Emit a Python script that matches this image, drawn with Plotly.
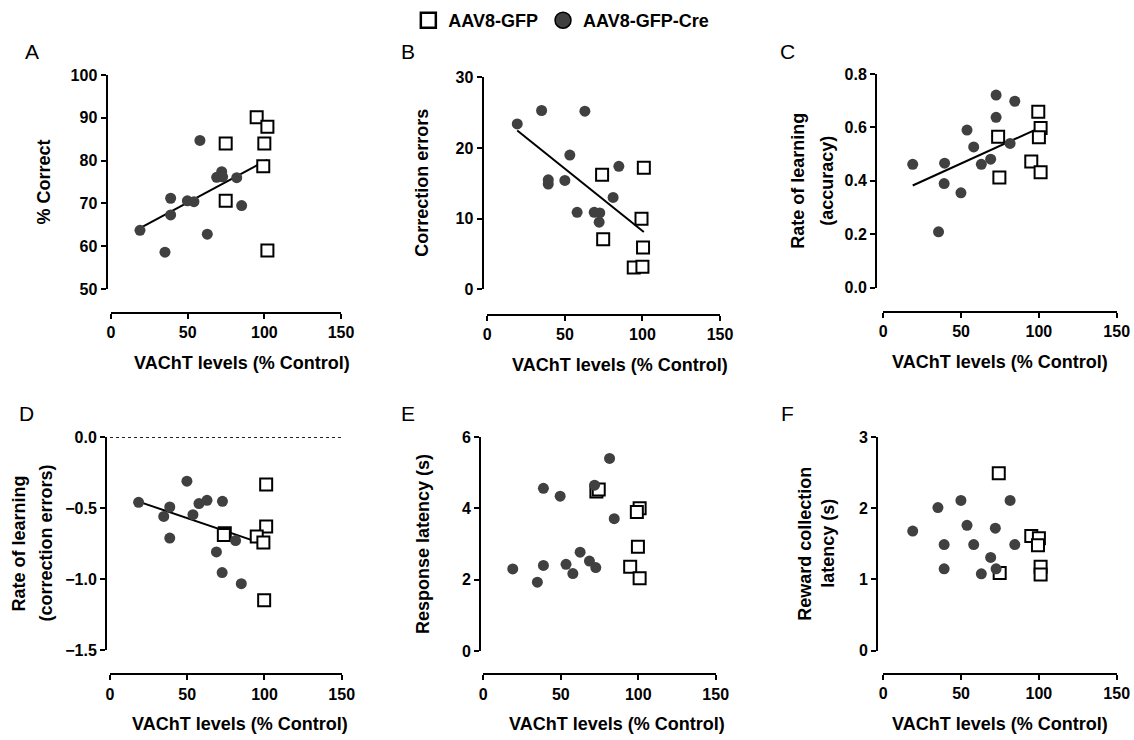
import plotly.graph_objects as go
import numpy as np

# ---------------- data ----------------
x_ticks = [0, 50, 100, 150]

A_cre_x = [18.9, 35.2, 38.9, 38.9, 49.8, 54.1, 58.0, 62.8, 68.9, 72.2, 72.8, 82.0, 85.2]
A_cre_y = [63.7, 58.6, 71.2, 67.3, 70.6, 70.4, 84.7, 62.8, 76.1, 77.4, 76.2, 76.0, 69.5]
A_gfp_x = [95.0, 102.0, 74.8, 100.0, 99.3, 74.8, 102.0]
A_gfp_y = [90.1, 87.9, 84.0, 84.0, 78.7, 70.6, 59.0]
A_fit = [60.56, 0.1925]          # intercept, slope

B_cre_x = [19.3, 35.0, 62.9, 53.2, 39.3, 39.3, 50.0, 84.8, 81.1, 57.9, 68.9, 72.5, 72.1]
B_cre_y = [23.4, 25.3, 25.2, 19.0, 15.5, 14.9, 15.4, 17.4, 13.0, 10.9, 10.9, 10.8, 9.5]
B_gfp_x = [74.0, 100.9, 99.4, 74.7, 100.4, 94.4, 100.0]
B_gfp_y = [16.2, 17.2, 10.0, 7.1, 5.9, 3.1, 3.2]
B_fit = [25.88, -0.1762]

C_cre_x = [18.9, 39.4, 39.1, 35.5, 49.9, 53.8, 58.1, 63.0, 69.0, 72.5, 72.5, 81.5, 84.5]
C_cre_y = [0.462, 0.466, 0.390, 0.209, 0.355, 0.590, 0.527, 0.462, 0.481, 0.721, 0.638, 0.540, 0.698]
C_gfp_x = [99.6, 101.1, 100.0, 73.8, 95.1, 101.1, 74.6]
C_gfp_y = [0.659, 0.598, 0.563, 0.565, 0.472, 0.432, 0.413]
C_fit = [0.3326, 0.002644]

D_cre_x = [18.5, 34.8, 38.7, 38.7, 49.8, 53.7, 57.6, 62.8, 72.8, 68.9, 72.6, 81.3, 85.0]
D_cre_y = [-0.460, -0.559, -0.493, -0.712, -0.311, -0.547, -0.469, -0.446, -0.453, -0.809, -0.955, -0.729, -1.033]
D_gfp_x = [101.1, 101.1, 74.3, 73.7, 95.0, 99.3, 99.8]
D_gfp_y = [-0.335, -0.630, -0.677, -0.691, -0.700, -0.743, -1.149]
D_fit = [-0.3866, -0.003695]

E_cre_x = [19.0, 34.9, 38.8, 38.8, 49.6, 53.4, 57.8, 62.5, 68.5, 72.6, 71.8, 81.5, 84.5]
E_cre_y = [2.30, 1.93, 2.40, 4.56, 4.34, 2.43, 2.17, 2.77, 2.52, 2.34, 4.65, 5.40, 3.71]
E_gfp_x = [73.0, 74.5, 100.9, 99.1, 99.8, 94.8, 100.9]
E_gfp_y = [4.47, 4.53, 4.00, 3.90, 2.92, 2.36, 2.04]

F_cre_x = [18.9, 35.1, 39.1, 39.1, 49.9, 53.8, 58.1, 63.0, 69.0, 72.0, 72.5, 81.5, 84.5]
F_cre_y = [1.68, 2.01, 1.49, 1.15, 2.11, 1.76, 1.49, 1.08, 1.31, 1.72, 1.15, 2.11, 1.49]
F_gfp_x = [74.2, 95.1, 100.0, 99.4, 101.1, 101.1, 74.8]
F_gfp_y = [2.49, 1.61, 1.58, 1.48, 1.18, 1.07, 1.09]

panel_letters = ["A", "B", "C", "D", "E", "F"]
y_titles = [["% Correct"], ["Correction errors"], ["Rate of learning", "(accuracy)"],
            ["Rate of learning", "(correction errors)"], ["Response latency (s)"],
            ["Reward collection", "latency (s)"]]
x_title = "VAChT levels (% Control)"
legend_names = ["AAV8-GFP", "AAV8-GFP-Cre"]

y_ranges = [[50, 100], [0, 30], [0, 0.8], [-1.5, 0], [0, 6], [0, 3]]
y_tickvals = [[50, 60, 70, 80, 90, 100], [0, 10, 20, 30], [0, 0.2, 0.4, 0.6, 0.8],
              [-1.5, -1.0, -0.5, 0.0], [0, 2, 4, 6], [0, 1, 2, 3]]
y_tickfmt = ["d", "d", ".1f", ".1f", "d", "d"]

panels = [
    (A_cre_x, A_cre_y, A_gfp_x, A_gfp_y, A_fit),
    (B_cre_x, B_cre_y, B_gfp_x, B_gfp_y, B_fit),
    (C_cre_x, C_cre_y, C_gfp_x, C_gfp_y, C_fit),
    (D_cre_x, D_cre_y, D_gfp_x, D_gfp_y, D_fit),
    (E_cre_x, E_cre_y, E_gfp_x, E_gfp_y, None),
    (F_cre_x, F_cre_y, F_gfp_x, F_gfp_y, None),
]

# ---------------- layout geometry (pixels in the final picture) ----------------
W, H = 1134, 740
# x-axis pixel span (0..150), y-axis pixel span (top, bottom), x-axis line y, y-axis line x
geom = [
    (111.0, 341.0, 75.0, 289.0, 313.0, 106.5),
    (487.3, 720.0, 77.3, 289.3, 315.0, 482.5),
    (883.3, 1116.7, 74.0, 287.7, 311.7, 876.0),
    (110.0, 341.7, 437.0, 650.0, 674.3, 106.0),
    (483.3, 715.7, 437.0, 651.0, 674.3, 480.0),
    (883.3, 1116.7, 437.0, 650.7, 674.0, 877.0),
]
xtitle_dx = [16, 16, 0, 14, 17, 0]
ytitle_dx = [[-63], [-60], [-78, -49], [-88, -61], [-57], [-72, -49]]
letter_pos = [(32, 52), (408, 52), (787, 52), (26, 413), (408, 413), (787, 413)]

def px(v):
    return v / W

def py(v):
    return 1 - v / H

FONT = "Liberation Sans"
fig = go.Figure()
layout = {}
annotations = []

for i, (cx, cy, gx, gy, fit) in enumerate(panels):
    k = i + 1
    xa = "x" if k == 1 else f"x{k}"
    ya = "y" if k == 1 else f"y{k}"
    x0, x1, ytop, ybot, xline_y, yline_x = geom[i]

    # dotted zero line in panel D
    if i == 3:
        fig.add_trace(go.Scatter(x=[x_ticks[0], x_ticks[-1]], y=[0, 0], mode="lines",
                                 line=dict(color="#222222", width=2, dash="dot"),
                                 xaxis=xa, yaxis=ya, showlegend=False, hoverinfo="skip",
                                 cliponaxis=False))
    if fit is not None:
        allx = np.array(cx + gx)
        fx = np.array([allx.min(), allx.max()])
        fy = fit[0] + fit[1] * fx
        fig.add_trace(go.Scatter(x=fx, y=fy, mode="lines", line=dict(color="black", width=2),
                                 xaxis=xa, yaxis=ya, showlegend=False, hoverinfo="skip",
                                 cliponaxis=False))
    fig.add_trace(go.Scatter(x=gx, y=gy, mode="markers", name=legend_names[0],
                             marker=dict(symbol="square", size=12, color="white",
                                         line=dict(color="black", width=2)),
                             xaxis=xa, yaxis=ya, showlegend=False, cliponaxis=False))
    fig.add_trace(go.Scatter(x=cx, y=cy, mode="markers", name=legend_names[1],
                             marker=dict(symbol="circle", size=11, color="#404040",
                                         line=dict(width=0)),
                             xaxis=xa, yaxis=ya, showlegend=False, cliponaxis=False))

    axis_common = dict(showline=True, linecolor="black", linewidth=2, ticks="outside",
                       ticklen=5, tickwidth=2, tickcolor="black", showgrid=False,
                       zeroline=False, automargin=False,
                       tickfont=dict(family=FONT, size=16, color="black", weight="bold"))
    layout["xaxis" if k == 1 else f"xaxis{k}"] = dict(
        domain=[px(x0), px(x1)], range=[0, 150], tickvals=x_ticks,
        anchor="free", position=py(xline_y), **axis_common)
    layout["yaxis" if k == 1 else f"yaxis{k}"] = dict(
        domain=[py(ybot), py(ytop)], range=y_ranges[i], tickvals=y_tickvals[i],
        tickformat=y_tickfmt[i], anchor="free", position=px(yline_x), **axis_common)

    # x title
    annotations.append(dict(text=x_title, x=px((x0 + x1) / 2 + xtitle_dx[i]),
                            y=py(xline_y + 50), xref="paper", yref="paper", showarrow=False,
                            xanchor="center", yanchor="middle",
                            font=dict(family=FONT, size=18, color="black", weight="bold")))
    # y title(s)
    ymid = (ytop + ybot) / 2
    for t, dx in zip(y_titles[i], ytitle_dx[i]):
        annotations.append(dict(text=t, x=px(yline_x + dx), y=py(ymid), xref="paper",
                                yref="paper", showarrow=False, textangle=-90,
                                xanchor="center", yanchor="middle",
                                font=dict(family=FONT, size=18, color="black", weight="bold")))
    # panel letter
    lx, ly = letter_pos[i]
    annotations.append(dict(text=panel_letters[i], x=px(lx), y=py(ly),
                            xref="paper", yref="paper", showarrow=False,
                            xanchor="center", yanchor="middle",
                            font=dict(family=FONT, size=21, color="black")))

# legend-only entries (larger symbols, no data points)
fig.add_trace(go.Scatter(x=[None], y=[None], mode="markers", name=legend_names[0],
                         marker=dict(symbol="square", size=15, color="white",
                                     line=dict(color="black", width=2.5)),
                         showlegend=True))
fig.add_trace(go.Scatter(x=[None], y=[None], mode="markers", name=legend_names[1],
                         marker=dict(symbol="circle", size=16, color="#404040",
                                     line=dict(color="black", width=1.5)),
                         showlegend=True))

fig.update_layout(
    template="none",
    width=W, height=H, margin=dict(l=0, r=0, t=0, b=0, autoexpand=False),
    paper_bgcolor="white", plot_bgcolor="white",
    showlegend=True,
    legend=dict(orientation="h", x=0.495, xanchor="center", y=1.0 - 2 / H, yanchor="top",
                font=dict(family=FONT, size=18, color="black", weight="bold"),
                bgcolor="rgba(0,0,0,0)", itemwidth=30, traceorder="normal"),
    annotations=annotations,
    **layout,
)

fig.write_html(
    "out.html",
    config={"displayModeBar": False},
    post_script="document.body.style.margin='0';"
                "document.documentElement.style.overflow='hidden';",
)
